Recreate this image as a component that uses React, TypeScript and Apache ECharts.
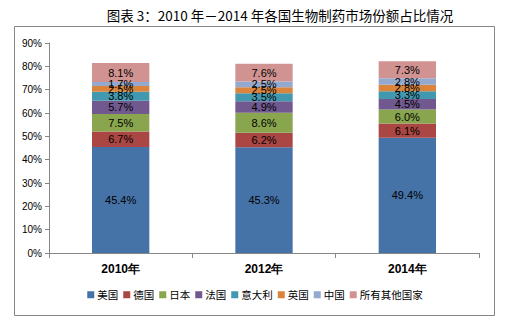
import React, { useEffect, useRef } from "react";
import * as echarts from "echarts";

const categories = ["2010年", "2012年", "2014年"];
const seriesNames = ["美国", "德国", "日本", "法国", "意大利", "英国", "中国", "所有其他国家"];
const usa = [45.4, 45.3, 49.4];
const germany = [6.7, 6.2, 6.1];
const japan = [7.5, 8.6, 6.0];
const france = [5.7, 4.9, 4.5];
const italy = [3.8, 3.5, 3.3];
const uk = [2.5, 2.5, 2.8];
const china = [1.7, 2.5, 2.8];
const others = [8.1, 7.6, 7.3];
const yTicks = [0, 10, 20, 30, 40, 50, 60, 70, 80, 90];

const seriesData = [usa, germany, japan, france, italy, uk, china, others];
const colors = ["#4572A7", "#AA4643", "#89A54E", "#71588F", "#4198AF", "#DB843D", "#93A9CF", "#D19392"];

export default function App() {
  const ref = useRef<HTMLDivElement>(null);
  useEffect(() => {
    if (!ref.current) return;
    const chart = echarts.init(ref.current, null, { renderer: "svg" });
    chart.setOption({
      animation: false,
      backgroundColor: "#ffffff",
      color: colors,
      title: {
        text: "图表 3：2010 年－2014 年各国生物制药市场份额占比情况",
        left: 275,
        textAlign: "center",
        top: 3,
        textStyle: { fontFamily: "Noto Sans CJK SC", fontSize: 13.5, fontWeight: "normal", color: "#000" },
      },
      graphic: [
        {
          type: "rect",
          shape: { x: 14.5, y: 26.5, width: 480, height: 289 },
          style: { fill: "none", stroke: "#868686", lineWidth: 1 },
          silent: true,
        },
      ],
      legend: {
        bottom: 23,
        left: "center",
        width: 460,
        itemWidth: 7,
        itemHeight: 7,
        itemGap: 5,
        icon: "rect",
        textStyle: { fontFamily: "Noto Sans CJK SC", fontSize: 10.5, color: "#000", padding: [0, 0, 0, -2] },
        data: seriesNames,
      },
      grid: { left: 49, right: 31, top: 43, bottom: 75, containLabel: false },
      xAxis: {
        type: "category",
        data: categories,
        axisLine: { lineStyle: { color: "#868686" } },
        axisTick: { show: true, alignWithLabel: false, length: 5, lineStyle: { color: "#868686" } },
        axisLabel: { fontFamily: "Liberation Sans", fontSize: 12, fontWeight: "bold", color: "#000", margin: 10 },
      },
      yAxis: {
        type: "value",
        min: 0,
        max: 90,
        interval: 10,
        splitLine: { show: false },
        axisLine: { show: true, lineStyle: { color: "#868686" } },
        axisTick: { show: true, length: 4, lineStyle: { color: "#868686" } },
        axisLabel: {
          fontFamily: "Liberation Sans",
          fontSize: 10,
          color: "#000",
          margin: 7,
          formatter: (v: number) => (yTicks.includes(v) ? v + "%" : ""),
        },
      },
      series: seriesNames.map((name, i) => ({
        name,
        type: "bar",
        stack: "total",
        barWidth: "40%",
        data: seriesData[i],
        itemStyle: { color: colors[i] },
        label: {
          show: true,
          position: "inside",
          fontFamily: "Liberation Sans",
          fontSize: 11,
          color: "#000",
          formatter: (p: any) => p.value.toFixed(1) + "%",
        },
      })),
    });
    return () => chart.dispose();
  }, []);
  return <div ref={ref} style={{ position: "fixed", left: 0, top: 0, width: 510, height: 328 }} />;
}
